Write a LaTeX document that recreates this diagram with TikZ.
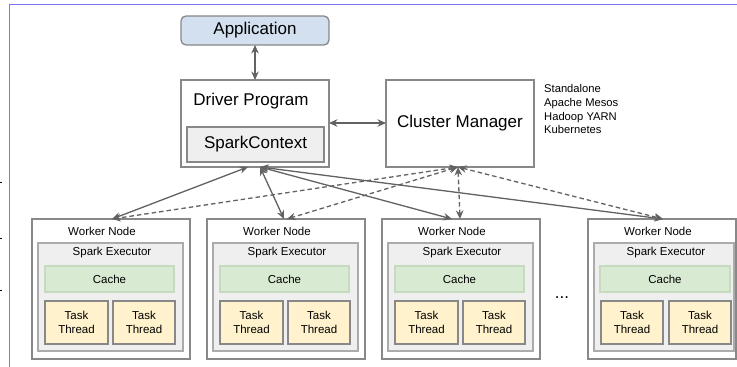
\documentclass[tikz,border=0pt]{standalone}
\usepackage{fontspec}
\setmainfont{Liberation Sans}
\usetikzlibrary{arrows.meta}

\definecolor{edge}{HTML}{626262}
\definecolor{boxline}{HTML}{888888}
\definecolor{softline}{HTML}{ABABAB}
\definecolor{appfill}{HTML}{D3E0F0}
\definecolor{greyfill}{HTML}{EFEFEF}
\definecolor{cachefill}{HTML}{D9EAD3}
\definecolor{cacheline}{HTML}{C6DABF}
\definecolor{taskfill}{HTML}{FFF2CC}
\definecolor{frameblue}{HTML}{7878F0}

\tikzset{
  box/.style={draw=boxline, line width=1.3pt, inner sep=0pt, outer sep=0pt},
  big/.style={font=\fontsize{17}{20}\selectfont},
  small/.style={font=\fontsize{11.5}{13.7}\selectfont},
  worker/.style={box, fill=white, minimum height=140pt},
  executor/.style={box, draw=softline, fill=greyfill, minimum height=108pt},
  cachebox/.style={box, draw=cacheline, fill=cachefill, minimum height=26pt, small},
  taskbox/.style={box, fill=taskfill, minimum height=43pt, small, align=center},
  link/.style={draw=edge, line width=1.3pt,
    {Stealth[length=8.5pt,width=7.5pt]}-{Stealth[length=8.5pt,width=7.5pt]}},
  dlink/.style={link, dash pattern=on 4.5pt off 3pt},
}

% one worker: #1 = name, #2 = left edge
\newcommand\wnode[2]{%
  \node[worker, minimum width=158pt] (#1) at (#2+79,289) {};
  \node[small] (#1lbl) at (#2+70,231) {Worker Node};
  \node[executor, minimum width=145pt] (#1ex) at (#2+78.5,297) {};
  \node[small] (#1exl) at (#2+80,253) {Spark Executor};
  \node[cachebox, minimum width=129pt] (#1ca) at (#2+77.5,279) {Cache};
  \node[taskbox, minimum width=63pt] (#1ta) at (#2+44.5,322.5) {Task\\Thread};
  \node[taskbox, minimum width=62pt] (#1tb) at (#2+112,322.5) {Task\\Thread};
}

\begin{document}
\begin{tikzpicture}[x=1pt, y=-1pt]
  \fill[white] (0,0) rectangle (737,367);
  \useasboundingbox (0,0) rectangle (737,367);

  % frame edges
  \draw[frameblue, line width=1pt] (9.5,367) -- (9.5,4.5) -- (737,4.5);
  \foreach \yy in {182,238,290} \draw[black, line width=0.8pt] (0,\yy) -- (2,\yy);

  % top part
  \node[box, fill=appfill, rounded corners=5pt, minimum width=148pt, minimum height=29pt, big] (app) at (255,30.5) {Application};
  \node[box, fill=white, minimum width=148pt, minimum height=87pt] (drv) at (255,123.5) {};
  \node[big] (drvl) at (251,101) {Driver Program};
  \node[box, fill=greyfill, minimum width=137pt, minimum height=35pt, big] (sc) at (255.5,144.5) {SparkContext};
  \node[box, fill=white, minimum width=148pt, minimum height=87pt, big] (cm) at (460,123.5) {Cluster Manager};
  \node[font=\fontsize{11.2}{13.7}\selectfont, align=left, anchor=north west, inner sep=0pt] (cmlist) at (544,84.5)
    {Standalone\\Apache Mesos\\Hadoop YARN\\Kubernetes};

  % workers
  \wnode{wa}{32}
  \wnode{wb}{207}
  \wnode{wc}{382}
  % last worker, narrower
  \node[worker, minimum width=148pt] (wd) at (662,289) {};
  \node[small] (wdlbl) at (658,231) {Worker Node};
  \node[executor, minimum width=140pt] (wdex) at (664,297) {};
  \node[small] (wdexl) at (666,253) {Spark Executor};
  \node[cachebox, minimum width=130pt] (wdca) at (665,279) {Cache};
  \node[taskbox, minimum width=62pt] (wdta) at (632,322.5) {Task\\Thread};
  \node[taskbox, minimum width=62pt] (wdtb) at (700,322.5) {Task\\Thread};

  \node[big, anchor=base] (more) at (562,298) {...};

  % attachment points
  \coordinate (d1) at ([xshift=-7pt]drv.south);
  \coordinate (d2) at ([xshift=5pt]drv.south);
  \coordinate (c0) at ([xshift=-2pt]cm.south);
  \coordinate (wat) at ([xshift=1pt]wa.north);
  \coordinate (wbt) at ([xshift=-2pt]wb.north);
  \coordinate (wbd) at ([xshift=1pt]wb.north);
  \coordinate (wct) at ([xshift=-9pt]wc.north);
  \coordinate (wcd) at ([xshift=-1pt]wc.north);
  \coordinate (wdt) at ([xshift=1pt]wd.north);

  % connectors
  \draw[link] (app) -- (drv);
  \draw[link] (drv.east |- 0,123) -- (cm.west |- 0,123);
  \draw[link] (d1) -- (wat);
  \draw[link] (d2) -- (wbt);
  \draw[link] (d2) -- (wct);
  \draw[link] (d2) -- (wdt);
  \draw[dlink] (c0) -- (wat);
  \draw[dlink] (c0) -- (wbd);
  \draw[dlink] (c0) -- (wcd);
  \draw[dlink] (c0) -- (wdt);
\end{tikzpicture}
\end{document}
